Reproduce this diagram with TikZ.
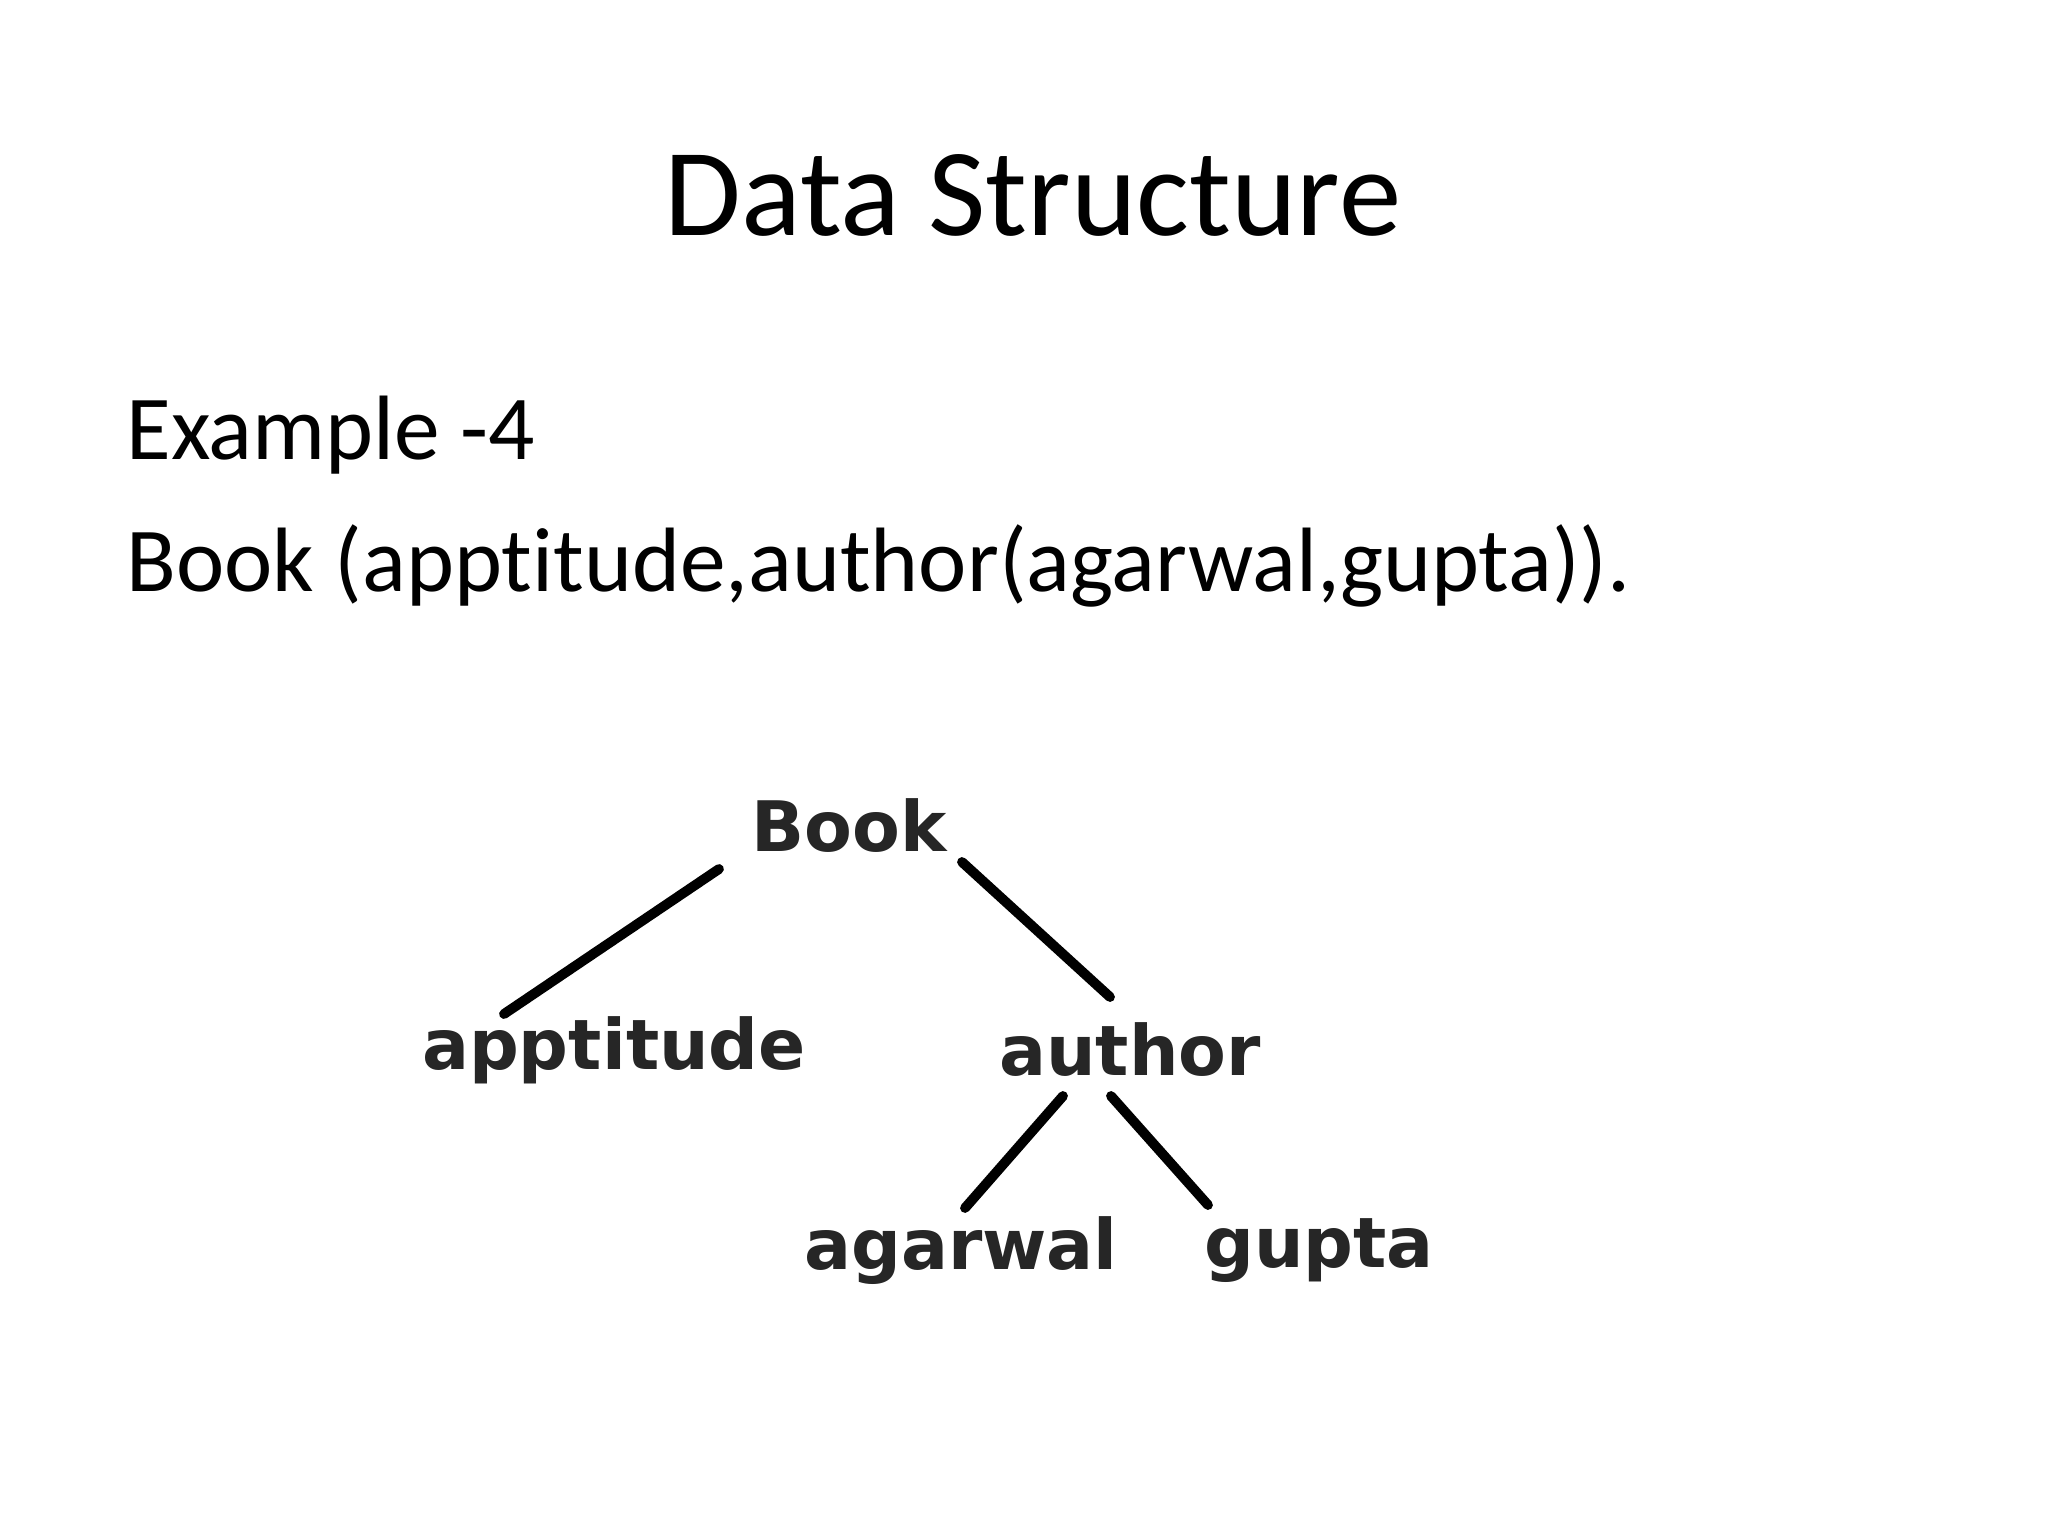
\documentclass[tikz,border=0pt]{standalone}
\usepackage{fontspec}
\setmainfont[Ligatures=NoCommon]{Carlito}
\newfontfamily\treefont{DejaVu Sans}
\begin{document}
\begin{tikzpicture}[x=0.01cm,y=-0.01cm,
  tn/.style={font=\treefont\bfseries\fontsize{19.8}{22}\selectfont, text=black!85, inner sep=0pt},
  edge/.style={line width=2.8pt, line cap=round}]
\useasboundingbox (0,0) rectangle (2048,1536);
\node (title) at (1033,195) {\fontsize{35.5}{42}\selectfont Data Structure};
\node[anchor=base west] (ex) at (114,459) {\fontsize{26}{31}\selectfont Example -4};
\node[anchor=base west] (bk) at (114,591) {\fontsize{26}{31}\selectfont Book (apptitude,author(agarwal,gupta)).};
\node[tn] (book) at (849,826) {Book};
\node[tn] (app) at (614,1050) {apptitude};
\node[tn] (auth) at (1130,1050) {author};
\node[tn] (aga) at (961,1251) {agarwal};
\node[tn] (gup) at (1319,1251) {gupta};
\coordinate (b1) at (719,869); \coordinate (a1) at (504,1014);
\coordinate (b2) at (962,862); \coordinate (u1) at (1110,997);
\coordinate (u2) at (1063,1096); \coordinate (g1) at (965,1208);
\coordinate (u3) at (1111,1096); \coordinate (g2) at (1208,1205);
\draw[edge] (b1) -- (a1);
\draw[edge] (b2) -- (u1);
\draw[edge] (u2) -- (g1);
\draw[edge] (u3) -- (g2);
\end{tikzpicture}
\end{document}
